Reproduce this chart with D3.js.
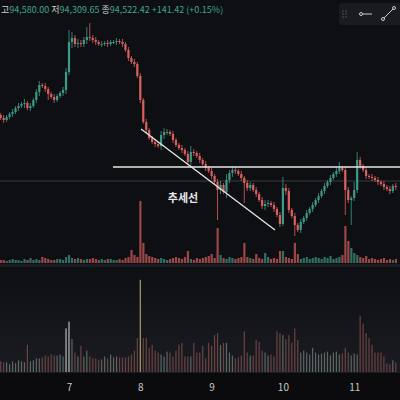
<!DOCTYPE html>
<html><head><meta charset="utf-8">
<script src="https://cdn.jsdelivr.net/npm/d3@7"></script>
<style>
body{margin:0;background:#0e0f13;overflow:hidden}
text{font-family:"Noto Sans CJK KR","Noto Sans",sans-serif}
</style></head>
<body><svg id="chart" width="400" height="400"></svg>
<script>
// hourly closes, 24 per day, starting ~23h before day 7
var closes = [95020,95000,95030,95060,95080,95120,95140,95160,95170,95120,
  95140,95200,95280,95350,95340,95310,95260,95230,95200,95240,
  95270,95300,95480,95780,95820,95760,95770,95760,95800,95830,
  95820,95800,95780,95760,95760,95770,95760,95780,95780,95790,
  95780,95760,95700,95620,95580,95560,95440,95200,94980,94900,
  94820,94780,94760,94740,94850,94880,94880,94860,94800,94750,
  94720,94700,94660,94580,94680,94670,94640,94600,94560,94520,
  94490,94440,94380,94300,94350,94280,94400,94470,94500,94490,
  94460,94420,94370,94320,94350,94300,94260,94200,94140,94160,
  94170,94150,94110,94050,93960,94320,94290,94100,94040,93950,
  93900,93980,94020,94070,94110,94150,94200,94240,94290,94340,
  94380,94420,94460,94490,94520,94500,94300,94200,94220,94300,
  94600,94540,94500,94440,94430,94420,94400,94380,94360,94330,
  94310,94290,94340,94330];
var firstOpen = 95050;
var hiWick = [20,30,20,20,30,20,30,20,40,20, 30,20,30,40,20,30,20,20,30,20,
  20,30,40,120,60,30,40,30,30,100, 140,30,30,20,30,20,30,20,20,30,
  20,30,20,30,20,30,20,30,20,30, 20,20,30,20,40,40,30,20,30,20,
  20,30,20,30,60,30,20,30,20,30, 20,30,20,30,40,20,60,30,40,30,
  20,30,20,30,30,20,30,20,30,40, 30,20,30,20,30,110,40,30,20,30,
  20,30,20,30,20,30,20,30,20,30, 20,30,20,30,60,20,30,30,20,80,
  80,30,20,30,20,30,20,30,20,30, 20,30,20,30];
var loWick = [20,30,20,20,30,20,30,20,40,20, 30,20,30,40,20,30,60,20,30,20,
  20,30,40,30,60,30,40,30,30,40, 30,30,30,20,30,20,30,20,20,30,
  20,30,20,30,20,30,20,30,20,30, 20,20,30,20,40,40,30,20,30,20,
  20,30,20,30,60,30,20,30,20,30, 20,30,20,300,40,20,60,30,40,30,
  20,30,200,30,30,20,30,20,30,40, 30,20,30,20,30,20,40,30,20,110,
  20,30,20,30,20,30,20,30,20,30, 20,30,20,30,30,20,250,30,250,30,
  30,30,20,30,20,30,20,30,20,30, 20,30,20,30];
var vol = [3,3,2,3,4,3,3,2,4,3, 5,3,4,3,6,5,4,3,3,4, 4,3,6,8,5,4,5,4,3,4,
  4,5,4,3,4,3,4,4,3,3, 4,3,5,6,13,8,6,62,20,9, 7,6,5,4,5,4,3,4,5,6,
  5,4,6,12,4,3,5,4,5,6, 7,9,5,35,8,5,4,6,5,4, 5,6,20,6,5,4,9,5,4,10,
  6,4,5,4,12,12,6,5,4,20, 9,4,5,6,4,5,6,5,4,6, 5,7,4,5,6,8,37,22,15,10,
  8,6,5,7,4,5,4,3,4,5, 3,4,3,4];
var osc = [11,10,10,8,11,9,12,11,10,28, 11,12,14,14,15,17,16,18,17,17,
  18,16,45,52,34,20,16,27,16,22, 16,14,14,12,13,16,14,18,15,16, 15,15,15,16,18,22,35,95,35,35,
  25,28,22,20,18,16,21,20,16,22, 28,30,16,16,16,30,20,20,27,14,
  30,27,38,40,28,30,30,20,17,14, 15,17,42,20,17,17,33,31,22,20,
  17,18,16,42,40,38,34,38,30,45, 33,20,22,20,18,25,20,18,19,20,
  21,17,20,21,18,19,25,20,17,19, 18,58,50,40,35,28,20,20,20,16,
  9,8,12,10];
var dayTicks = ["7","8","9","10","11"];

var svg = d3.select("#chart");
var green = "#3d9a86", red = "#d9605e";

var defs = svg.append("defs");
var g1 = defs.append("linearGradient").attr("id","bg2").attr("x1",0).attr("x2",0).attr("y1",0).attr("y2",1);
g1.append("stop").attr("offset","0%").attr("stop-color","#0e0f13");
g1.append("stop").attr("offset","100%").attr("stop-color","#1b1c21");
svg.append("rect").attr("x",0).attr("y",267).attr("width",400).attr("height",106).attr("fill","url(#bg2)");
svg.append("rect").attr("x",0).attr("y",264).attr("width",400).attr("height",3).attr("fill","#1c1d22");
svg.append("rect").attr("x",0).attr("y",373).attr("width",400).attr("height",27).attr("fill","#0b0b0e");

var n = closes.length;
var x = d3.scaleLinear().domain([0, 24]).range([0, 71.3]);
var xOff = 69 - x(23);
var cx = function(i){ return xOff + x(i); };
var y = d3.scaleLinear().domain([93700, 96100]).range([250, 10]);

var candles = closes.map(function(c,i){
  var o = i === 0 ? firstOpen : closes[i-1];
  return {i:i, o:o, c:c, h:Math.max(o,c)+hiWick[i], l:Math.min(o,c)-loWick[i], v:vol[i], v2:osc[i]};
});

// price line
svg.append("line").attr("x1",0).attr("x2",400).attr("y1",181).attr("y2",181)
  .attr("stroke","#3a3b40").attr("stroke-width",1);

// main volume
var yv = d3.scaleLinear().domain([0, 70]).range([263, 193]);
svg.append("g").selectAll("rect").data(candles).enter().append("rect")
  .attr("x", function(d){ return cx(d.i)-1; }).attr("width", 2.2)
  .attr("y", function(d){ return yv(d.v); })
  .attr("height", function(d){ return yv(0)-yv(d.v); })
  .attr("fill", function(d){ return d.c >= d.o ? green : red; }).attr("opacity",0.7);

var cg = svg.append("g").selectAll("g").data(candles).enter().append("g");
cg.append("line")
  .attr("x1", function(d){ return cx(d.i); }).attr("x2", function(d){ return cx(d.i); })
  .attr("y1", function(d){ return y(d.h); }).attr("y2", function(d){ return y(d.l); })
  .attr("stroke", function(d){ return d.c >= d.o ? green : red; }).attr("stroke-width",0.8);
cg.append("rect")
  .attr("x", function(d){ return cx(d.i)-1.1; }).attr("width", 2.2)
  .attr("y", function(d){ return y(Math.max(d.o,d.c)); })
  .attr("height", function(d){ return Math.max(1, Math.abs(y(d.o)-y(d.c))); })
  .attr("fill", function(d){ return d.c >= d.o ? green : red; });

// drawings
svg.append("line").attr("x1",113).attr("x2",400).attr("y1",167).attr("y2",167)
  .attr("stroke","#e8e8e8").attr("stroke-width",1.3);
svg.append("line").attr("x1",141).attr("x2",275).attr("y1",129).attr("y2",230)
  .attr("stroke","#e8e8e8").attr("stroke-width",1.3);
svg.append("text").attr("x",183).attr("y",202).attr("text-anchor","middle")
  .attr("fill","#e6e6e6").attr("font-size",11).attr("font-weight","bold").text("추세선");

// lower pane
var y2 = d3.scaleLinear().domain([0, 100]).range([372, 275]);
svg.append("g").selectAll("rect").data(candles).enter().append("rect")
  .attr("x", function(d){ return cx(d.i)-0.6; }).attr("width", 1.2)
  .attr("y", function(d){ return y2(d.v2); })
  .attr("height", function(d){ return y2(0)-y2(d.v2); })
  .attr("fill", function(d){
    if (d.v2 >= 90) return "#a8a060";
    if (d.v2 >= 40 && d.c >= d.o) return "#b8b8b8";
    return d.c >= d.o ? "#5c6663" : "#6a4242"; });

// time axis
var xa = d3.axisBottom(d3.scaleLinear().domain([0, n]).range([cx(0), cx(n)]))
  .tickValues([23,47,71,95,119]).tickFormat(function(d,k){ return dayTicks[k]; }).tickSize(0);
var ag = svg.append("g").attr("transform","translate(0,381)").call(xa);
ag.select(".domain").remove();
ag.selectAll("text").attr("fill","#c8c8c8").attr("font-size",10);

// header
var hdr = svg.append("text").attr("x",1).attr("y",13).attr("font-size",9).attr("fill","#3fa58c");
hdr.append("tspan").attr("fill","#d0d0d0").text("고");
hdr.append("tspan").text("94,580.00 ");
hdr.append("tspan").attr("fill","#d0d0d0").text("저");
hdr.append("tspan").text("94,309.65 ");
hdr.append("tspan").attr("fill","#d0d0d0").text("종");
hdr.append("tspan").text("94,522.42 +141.42 (+0.15%)");

// toolbar
svg.append("rect").attr("x",339).attr("y",3).attr("width",66).attr("height",22).attr("rx",3).attr("fill","#1a1b20");
[[343,11],[346,11],[343,14],[346,14],[343,17],[346,17]].forEach(function(p){
  svg.append("circle").attr("cx",p[0]).attr("cy",p[1]).attr("r",0.7).attr("fill","#666");
});
svg.append("line").attr("x1",361).attr("x2",372).attr("y1",14).attr("y2",14).attr("stroke","#ccc");
svg.append("circle").attr("cx",361).attr("cy",14).attr("r",1.5).attr("fill","#1a1b20").attr("stroke","#ccc");
svg.append("line").attr("x1",383).attr("x2",394).attr("y1",19).attr("y2",8).attr("stroke","#ccc");
svg.append("circle").attr("cx",383).attr("cy",19).attr("r",1.5).attr("fill","#1a1b20").attr("stroke","#ccc");
svg.append("circle").attr("cx",394).attr("cy",8).attr("r",1.5).attr("fill","#1a1b20").attr("stroke","#ccc");
</script></body></html>
